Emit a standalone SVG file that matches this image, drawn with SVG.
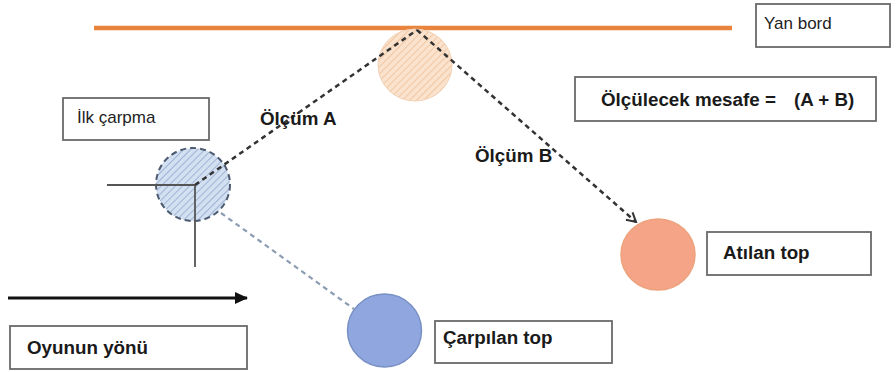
<svg xmlns="http://www.w3.org/2000/svg" width="896" height="372" viewBox="0 0 896 372">
<defs>
<pattern id="hatchO" patternUnits="userSpaceOnUse" width="5" height="5" patternTransform="rotate(45)">
<rect width="5" height="5" fill="#fae2cc"/>
<line x1="0" y1="0" x2="0" y2="5" stroke="#eec19a" stroke-width="1.6"/>
</pattern>
<pattern id="hatchB" patternUnits="userSpaceOnUse" width="5" height="5" patternTransform="rotate(45)">
<rect width="5" height="5" fill="#d3e0f2"/>
<line x1="0" y1="0" x2="0" y2="5" stroke="#92a9cc" stroke-width="1.6"/>
</pattern>
<marker id="openArrow" markerWidth="12" markerHeight="12" refX="10" refY="6" orient="auto" markerUnits="userSpaceOnUse">
<path d="M1,1 L10,6 L1,11" fill="none" stroke="#333" stroke-width="2"/>
</marker>
<marker id="solidArrow" markerWidth="14" markerHeight="14" refX="12" refY="7" orient="auto" markerUnits="userSpaceOnUse">
<path d="M0,1 L13,7 L0,13 Z" fill="#111"/>
</marker>
</defs>
<style>
.box{fill:#fff;stroke:#6a6a6a;stroke-width:1.8}
.lbl{font-family:"Liberation Sans",Arial,sans-serif;font-size:18.8px;font-weight:bold;fill:#1a1a1a}
.reg{font-family:"Liberation Sans",Arial,sans-serif;font-size:17px;fill:#222}
.dash{fill:none;stroke:#333;stroke-width:2.5;stroke-dasharray:5 4}
</style>
<rect width="896" height="372" fill="#fff"/>

<g id="yan-bord">
<line x1="94" y1="28" x2="732" y2="28" stroke="#e8843c" stroke-width="4.5"/>
<rect class="box" x="756" y="4" width="134" height="43"/>
<text class="reg" x="764" y="29">Yan bord</text>
</g>

<g id="bounce-ball">
<ellipse cx="415" cy="65" rx="37" ry="36" fill="url(#hatchO)" stroke="#f2d2b6" stroke-width="1"/>
</g>

<g id="ilk-carpma">
<rect class="box" x="63" y="98" width="146" height="42"/>
<text class="reg" x="77" y="123">İlk çarpma</text>
<ellipse cx="193" cy="184.5" rx="37" ry="36.5" fill="url(#hatchB)" stroke="#4d5b70" stroke-width="2" stroke-dasharray="6 4"/>
<line x1="107" y1="185" x2="195" y2="185" stroke="#555" stroke-width="1.8"/>
<line x1="195" y1="185" x2="195" y2="267" stroke="#555" stroke-width="1.8"/>
</g>

<g id="olculecek">
<rect class="box" x="575" y="77" width="301" height="44"/>
<text class="lbl" x="601" y="106">Ölçülecek mesafe =<tspan x="794">(A + B)</tspan></text>
</g>

<g id="atilan-top">
<ellipse cx="658" cy="254.5" rx="37" ry="35.5" fill="#f6a488" stroke="#eca27c" stroke-width="1.5"/>
<rect class="box" x="707" y="232" width="164" height="43"/>
<text class="lbl" x="723" y="259">Atılan top</text>
</g>

<g id="carpilan-top">
<ellipse cx="384.5" cy="330.5" rx="37" ry="36.5" fill="#8fa6df" stroke="#7890c4" stroke-width="1.5"/>
<rect class="box" x="435" y="321" width="177" height="42"/>
<text class="lbl" x="443" y="344">Çarpılan top</text>
</g>

<g id="oyunun-yonu">
<rect class="box" x="10" y="326" width="237" height="43"/>
<text class="lbl" x="27" y="354">Oyunun yönü</text>
</g>

<g id="connectors">
<line class="dash" x1="195" y1="185" x2="417" y2="30"/>
<line class="dash" x1="417" y1="30" x2="636" y2="222" marker-end="url(#openArrow)"/>
<line x1="221" y1="213" x2="354" y2="309" stroke="#8b9db3" stroke-width="2.2" stroke-dasharray="5 4"/>
<line x1="8" y1="298" x2="247" y2="298" stroke="#111" stroke-width="3" marker-end="url(#solidArrow)"/>
</g>

<text class="lbl" x="260" y="125">Ölçüm A</text>
<text class="lbl" x="475" y="162">Ölçüm B</text>
</svg>
